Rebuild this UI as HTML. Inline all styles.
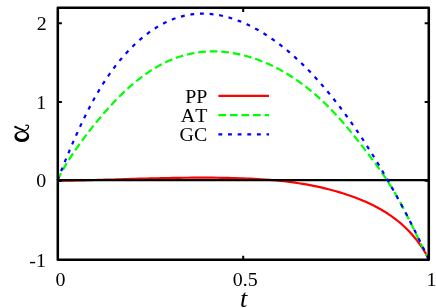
<!DOCTYPE html>
<html><head><meta charset="utf-8">
<style>
html,body{margin:0;padding:0;background:#fff;}
body{width:436px;height:308px;overflow:hidden;position:relative;font-family:"Liberation Serif",serif;}
svg{position:absolute;left:0;top:0;will-change:transform;}
text{font-family:"Liberation Serif",serif;fill:#000;font-kerning:none;}
</style></head><body>
<svg width="436" height="308" viewBox="0 0 436 308">
<rect width="436" height="308" fill="#fff"/>
<g fill="none" stroke-linecap="butt" stroke-linejoin="round">
<path d="M57.60,180.80 L61.31,180.75 L65.02,180.69 L68.74,180.62 L72.45,180.55 L76.16,180.47 L79.87,180.39 L83.58,180.30 L87.30,180.21 L91.01,180.12 L94.72,180.02 L98.43,179.92 L102.14,179.81 L105.86,179.70 L109.57,179.60 L113.28,179.49 L116.99,179.38 L120.70,179.27 L124.42,179.15 L128.13,179.05 L131.84,178.94 L135.55,178.83 L139.26,178.72 L142.98,178.62 L146.69,178.52 L150.40,178.42 L154.11,178.33 L157.82,178.24 L161.54,178.16 L165.25,178.08 L168.96,178.00 L172.67,177.94 L176.38,177.88 L180.10,177.82 L183.81,177.77 L187.52,177.73 L191.23,177.70 L194.94,177.68 L198.66,177.67 L202.37,177.66 L206.08,177.67 L209.79,177.69 L213.50,177.71 L217.22,177.75 L220.93,177.80 L224.64,177.87 L228.35,177.94 L232.06,178.03 L235.78,178.13 L239.49,178.25 L243.20,178.38 L246.91,178.53 L250.62,178.69 L254.34,178.88 L258.05,179.08 L261.76,179.31 L265.47,179.56 L269.18,179.84 L272.90,180.15 L276.61,180.49 L280.32,180.85 L284.03,181.25 L287.74,181.69 L291.46,182.16 L295.17,182.67 L298.88,183.22 L302.59,183.81 L306.30,184.44 L310.02,185.12 L313.73,185.84 L317.44,186.61 L321.15,187.43 L324.86,188.31 L328.58,189.23 L332.29,190.21 L336.00,191.25 L339.71,192.35 L343.42,193.50 L347.14,194.72 L350.85,196.00 L354.56,197.34 L358.27,198.76 L361.98,200.24 L365.70,201.82 L369.41,203.49 L373.12,205.28 L376.83,207.19 L380.54,209.24 L384.26,211.44 L387.97,213.79 L391.68,216.33 L395.39,219.05 L399.10,221.99 L402.82,225.18 L406.53,228.68 L410.24,232.52 L413.95,236.74 L417.66,241.40 L421.38,246.52 L425.09,252.29 L428.80,259.50" stroke="#ff0000" stroke-width="2.2"/>
<path d="M218.4,95.95 H269" stroke="#ff0000" stroke-width="2.2"/>
<path d="M57.8,180.2 H428.78" stroke="#000" stroke-width="2.3"/>
<path d="M57.60,180.10 L61.31,172.78 L65.02,166.12 L68.74,160.00 L72.45,154.29 L76.16,148.88 L79.87,143.66 L83.58,138.58 L87.30,133.63 L91.01,128.83 L94.72,124.16 L98.43,119.62 L102.14,115.21 L105.86,110.93 L109.57,106.79 L113.28,102.79 L116.99,98.92 L120.70,95.20 L124.42,91.62 L128.13,88.19 L131.84,84.91 L135.55,81.78 L139.26,78.81 L142.98,75.99 L146.69,73.34 L150.40,70.85 L154.11,68.52 L157.82,66.35 L161.54,64.34 L165.25,62.48 L168.96,60.77 L172.67,59.22 L176.38,57.81 L180.10,56.55 L183.81,55.43 L187.52,54.45 L191.23,53.61 L194.94,52.91 L198.66,52.35 L202.37,51.91 L206.08,51.61 L209.79,51.43 L213.50,51.38 L217.22,51.46 L220.93,51.65 L224.64,51.97 L228.35,52.40 L232.06,52.95 L235.78,53.61 L239.49,54.38 L243.20,55.26 L246.91,56.24 L250.62,57.33 L254.34,58.52 L258.05,59.82 L261.76,61.22 L265.47,62.73 L269.18,64.35 L272.90,66.08 L276.61,67.93 L280.32,69.89 L284.03,71.97 L287.74,74.18 L291.46,76.50 L295.17,78.95 L298.88,81.53 L302.59,84.23 L306.30,87.07 L310.02,90.04 L313.73,93.15 L317.44,96.39 L321.15,99.77 L324.86,103.29 L328.58,106.95 L332.29,110.76 L336.00,114.72 L339.71,118.82 L343.42,123.05 L347.14,127.40 L350.85,131.87 L354.56,136.44 L358.27,141.10 L361.98,145.85 L365.70,150.68 L369.41,155.57 L373.12,160.53 L376.83,165.58 L380.54,170.78 L384.26,176.16 L387.97,181.77 L391.68,187.65 L395.39,193.83 L399.10,200.37 L402.82,207.30 L406.53,214.54 L410.24,222.01 L413.95,229.61 L417.66,237.26 L421.38,244.85 L425.09,252.29 L428.80,259.50" stroke="#00ff00" stroke-width="2.2" stroke-dasharray="7.7 3.85"/>
<path d="M218.4,115.2 H269" stroke="#00ff00" stroke-width="2.2" stroke-dasharray="7.7 3.85"/>
<path d="M57.60,180.10 L61.31,170.62 L65.02,161.37 L68.74,152.38 L72.45,143.66 L76.16,135.23 L79.87,127.09 L83.58,119.26 L87.30,111.76 L91.01,104.59 L94.72,97.79 L98.43,91.33 L102.14,85.23 L105.86,79.45 L109.57,74.00 L113.28,68.85 L116.99,63.99 L120.70,59.41 L124.42,55.10 L128.13,51.04 L131.84,47.22 L135.55,43.63 L139.26,40.26 L142.98,37.11 L146.69,34.17 L150.40,31.44 L154.11,28.92 L157.82,26.60 L161.54,24.49 L165.25,22.57 L168.96,20.85 L172.67,19.32 L176.38,17.99 L180.10,16.83 L183.81,15.86 L187.52,15.07 L191.23,14.46 L194.94,14.02 L198.66,13.75 L202.37,13.65 L206.08,13.71 L209.79,13.93 L213.50,14.31 L217.22,14.85 L220.93,15.53 L224.64,16.37 L228.35,17.35 L232.06,18.47 L235.78,19.73 L239.49,21.13 L243.20,22.66 L246.91,24.32 L250.62,26.11 L254.34,28.02 L258.05,30.06 L261.76,32.23 L265.47,34.52 L269.18,36.94 L272.90,39.48 L276.61,42.15 L280.32,44.95 L284.03,47.87 L287.74,50.91 L291.46,54.09 L295.17,57.39 L298.88,60.81 L302.59,64.36 L306.30,68.04 L310.02,71.84 L313.73,75.76 L317.44,79.82 L321.15,83.99 L324.86,88.30 L328.58,92.72 L332.29,97.28 L336.00,101.96 L339.71,106.76 L343.42,111.69 L347.14,116.74 L350.85,121.92 L354.56,127.23 L358.27,132.66 L361.98,138.21 L365.70,143.89 L369.41,149.69 L373.12,155.62 L376.83,161.68 L380.54,167.85 L384.26,174.16 L387.97,180.58 L391.68,187.14 L395.39,193.81 L399.10,200.61 L402.82,207.54 L406.53,214.59 L410.24,221.76 L413.95,229.06 L417.66,236.49 L421.38,244.03 L425.09,251.70 L428.80,259.50" stroke="#0000ff" stroke-width="2.2" stroke-dasharray="3.85 5.78"/>
<path d="M218.4,134.45 H269" stroke="#0000ff" stroke-width="2.2" stroke-dasharray="3.85 5.78"/>
<g stroke="#000" stroke-width="2.0"><path d="M57.8,23.2 h4.1 M428.78,23.2 h-4.1"/><path d="M57.8,102.0 h4.1 M428.78,102.0 h-4.1"/><path d="M57.8,180.7 h4.1 M428.78,180.7 h-4.1"/><path d="M243.2,259.78 v-4.1 M243.2,7.78 v4.1"/></g>
<rect x="57.8" y="7.78" width="370.97999999999996" height="251.99999999999997" stroke="#000" stroke-width="2.55"/>
</g>
<g font-size="18.8px">
<text transform="translate(46.6,29.7) scale(1.06,1)" text-anchor="end">2</text>
<text transform="translate(46.2,109.1) scale(1.06,1)" text-anchor="end">1</text>
<text transform="translate(46.3,187.3) scale(1.06,1)" text-anchor="end">0</text>
<text transform="translate(45.9,266.9) scale(1.06,1)" text-anchor="end">-1</text>
<text transform="translate(60.5,286) scale(1.06,1)" text-anchor="middle">0</text>
<text transform="translate(245.3,286) scale(1.06,1)" text-anchor="middle">0.5</text>
<text transform="translate(431.4,286) scale(1.06,1)" text-anchor="middle">1</text>
<text transform="translate(207.3,102.9) scale(1.06,1)" text-anchor="end">PP</text>
<text transform="translate(207.3,122.2) scale(1.06,1)" text-anchor="end">AT</text>
<text transform="translate(207.3,141.4) scale(1.06,1)" text-anchor="end">GC</text>
</g>
<text transform="translate(243.6,307) scale(1.06,1)" text-anchor="middle" font-size="24.7px" font-style="italic">t</text>
<path fill-rule="evenodd" fill="#000" d="M14.4,136.5 a7.4,5.6 0 1,0 14.8,0 a7.4,5.6 0 1,0 -14.8,0 Z M16.85,135.6 a5.05,3.3 0 1,0 10.1,0 a5.05,3.3 0 1,0 -10.1,0 Z"/>
<path d="M15.3,127.0 L24.6,130.9" fill="none" stroke="#000" stroke-width="1.8" stroke-linecap="round"/><circle cx="15.6" cy="127.0" r="1.15" fill="#000"/>
<path d="M24.4,131.0 Q28.3,129.2 28.6,126.6 Q28.6,124.6 25.7,125.3" fill="none" stroke="#000" stroke-width="1.1" stroke-linecap="round"/>
</svg>
</body></html>
